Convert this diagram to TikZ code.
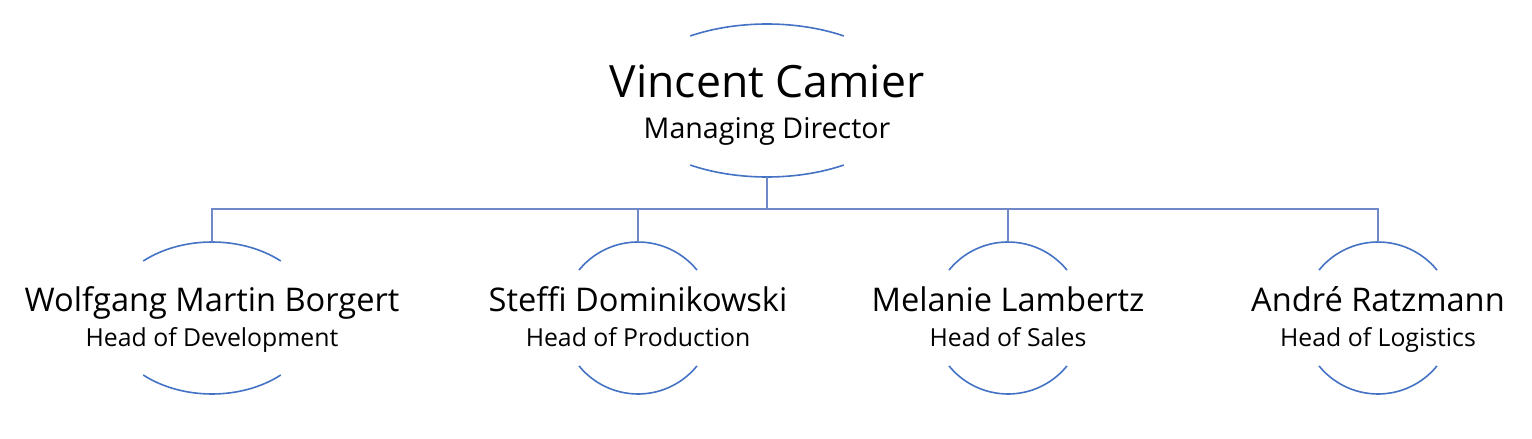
\documentclass[tikz,border=0pt]{standalone}
\usepackage{fontspec}
\setmainfont{Open Sans}
\begin{document}
\begin{tikzpicture}[x=1pt,y=-1pt,
  arcline/.style={draw=arcblue,line width=1.6pt},
  conn/.style={draw=connblue,line width=1.5pt},
  bigname/.style={anchor=base,font=\fontsize{44.5}{52}\selectfont,inner sep=0pt},
  bigrole/.style={anchor=base,font=\fontsize{28.6}{34}\selectfont,inner sep=0pt},
  childname/.style={anchor=base,font=\fontsize{32.6}{38}\selectfont,inner sep=0pt},
  childrole/.style={anchor=base,font=\fontsize{24.8}{30}\selectfont,inner sep=0pt}]
\definecolor{arcblue}{HTML}{4472C4}
\definecolor{connblue}{HTML}{7088C8}
\useasboundingbox (0,0) rectangle (1532,439);
% top node
\node[bigname] (vn) at (767,97) {Vincent Camier};
\node[bigrole] (vr) at (767,138) {Managing Director};
\coordinate (vc) at (767,100.5);
\coordinate (vtop) at (767,24);
\coordinate (vbot) at (767,177);
\draw[arcline] (vc) ++(57.5:143 and -76.5) arc[start angle=57.5,end angle=122.5,x radius=143,y radius=-76.5];
\draw[arcline] (vc) ++(237.5:143 and -76.5) arc[start angle=237.5,end angle=302.5,x radius=143,y radius=-76.5];
% children centres
\coordinate (c1) at (212,318);
\coordinate (c2) at (638,318);
\coordinate (c3) at (1008,318);
\coordinate (c4) at (1378,318);
\coordinate (t1) at (212,242);
\coordinate (t2) at (638,242);
\coordinate (t3) at (1008,242);
\coordinate (t4) at (1378,242);
% child 1 (ellipse)
\draw[arcline] (c1) ++(48.6:104 and -76) arc[start angle=48.6,end angle=131.4,x radius=104,y radius=-76];
\draw[arcline] (c1) ++(228.6:104 and -76) arc[start angle=228.6,end angle=311.4,x radius=104,y radius=-76];
\node[childname] (n1) at (212,311.5) {Wolfgang Martin Borgert};
\node[childrole] (r1) at (212,346) {Head of Development};
% children 2-4 (circles)
\foreach \c in {c2,c3,c4}{
  \draw[arcline] (\c) ++(39.1:76 and -76) arc[start angle=39.1,end angle=140.9,x radius=76,y radius=-76];
  \draw[arcline] (\c) ++(219.1:76 and -76) arc[start angle=219.1,end angle=320.9,x radius=76,y radius=-76];
}
\node[childname] (n2) at (638,311.5) {Steffi Dominikowski};
\node[childrole] (r2) at (638,346) {Head of Production};
\node[childname] (n3) at (1008,311.5) {Melanie Lambertz};
\node[childrole] (r3) at (1008,346) {Head of Sales};
\node[childname] (n4) at (1378,311.5) {André Ratzmann};
\node[childrole] (r4) at (1378,346) {Head of Logistics};
% connectors
\coordinate (bus) at (767,209);
\draw[conn] (vbot) -- (bus);
\draw[conn] (t1) |- (bus) -| (t4);
\draw[conn] (t2) -- (t2 |- bus);
\draw[conn] (t3) -- (t3 |- bus);
\end{tikzpicture}
\end{document}
